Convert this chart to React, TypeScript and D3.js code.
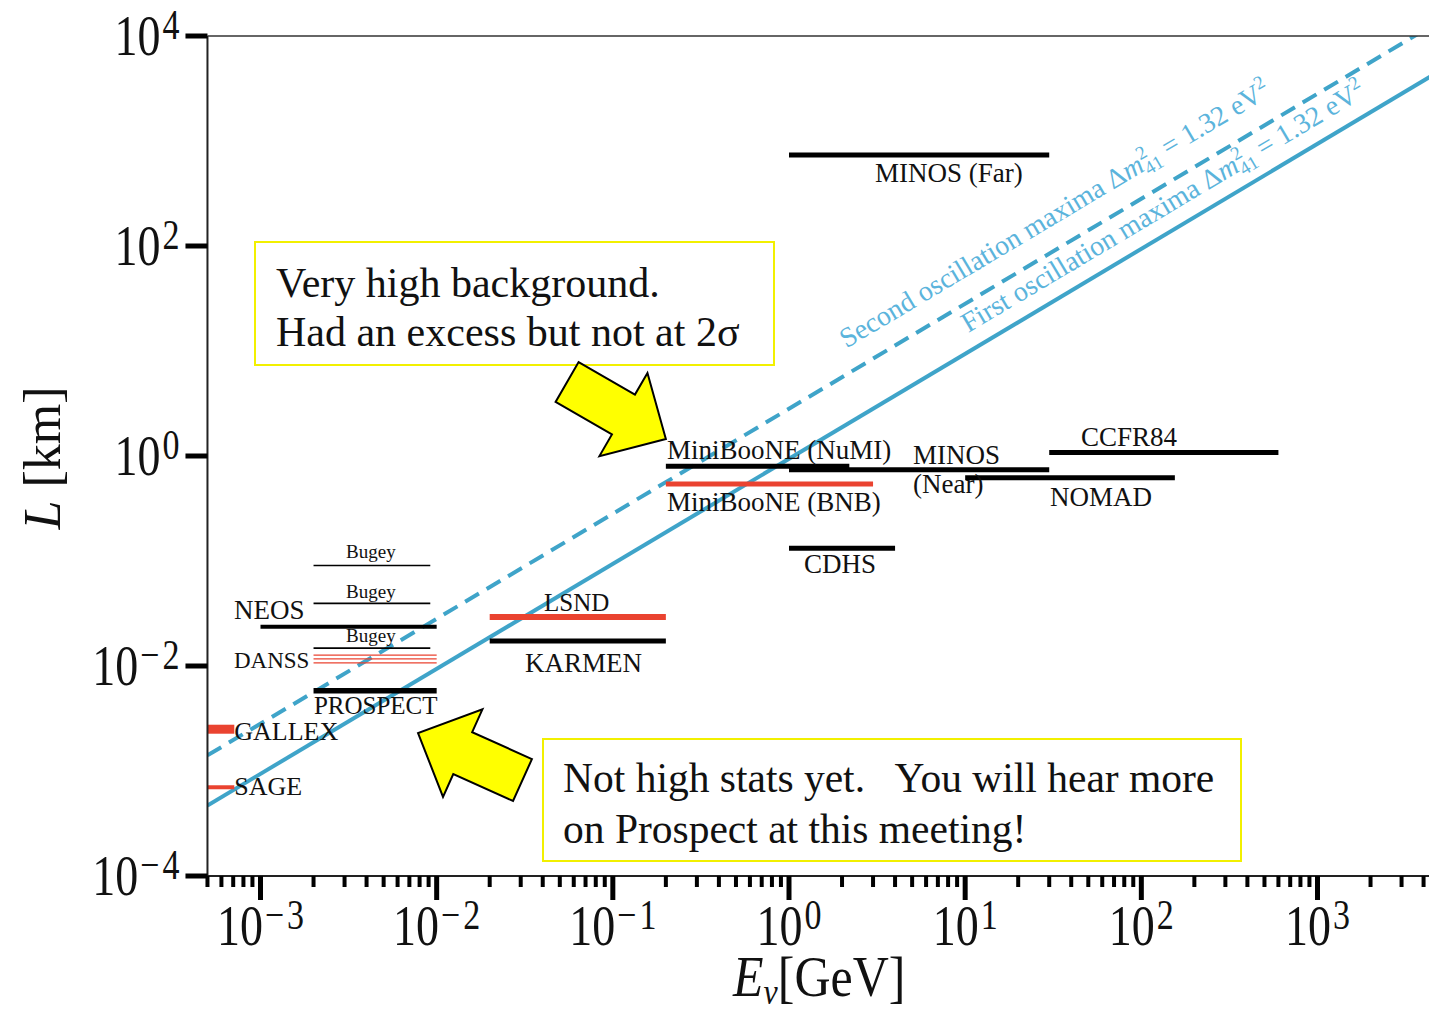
import React from 'react';
import * as d3 from 'd3';

const W = 1429;
const H = 1013;

// axis extents
const X_MIN = 5e-4;
const X_MAX = 5e3;
const Y_MIN = 1e-4;
const Y_MAX = 1e4;
const xTickExps = [-3, -2, -1, 0, 1, 2, 3];
const yTickExps = [-4, -2, 0, 2, 4];

// sterile oscillation
const DM2 = 1.32; // eV^2
const FIRST_MAX_FACTOR = Math.PI / (2 * 1.267 * DM2); // L[km] = f * E[GeV]
const SECOND_MAX_FACTOR = 3 * FIRST_MAX_FACTOR;

const RED = '#ea4330';
const BLACK = '#000';
const BLUE = '#3fa4c9';
const BLUE_TEXT = '#5bb4dc';
const FONT = '"Liberation Serif", "Times New Roman", serif';

// experiments: energy range [GeV], baseline [km]
const expNames = ['MINOS Far', 'MiniBooNE NuMI', 'MINOS Near', 'NOMAD', 'CCFR84', 'MiniBooNE BNB', 'CDHS', 'LSND', 'KARMEN', 'NEOS', 'Bugey 1', 'Bugey 2', 'Bugey 3', 'DANSS 1', 'DANSS 2', 'DANSS 3', 'PROSPECT', 'GALLEX', 'SAGE'];
const expEmin = [1, 0.2, 1, 10, 30, 0.2, 1, 0.02, 0.02, 0.001, 0.002, 0.002, 0.002, 0.002, 0.002, 0.002, 0.002, 5e-4, 5e-4];
const expEmax = [30, 2.2, 30, 155, 600, 3, 4, 0.2, 0.2, 0.01, 0.0092, 0.0092, 0.0092, 0.01, 0.01, 0.01, 0.01, 7.1e-4, 7.1e-4];
const expL = [735, 0.8, 0.74, 0.62, 1.08, 0.54, 0.132, 0.0293, 0.0173, 0.0236, 0.0905, 0.0395, 0.0148, 0.0127, 0.0117, 0.0107, 0.0058, 0.0025, 7.0e-4];
const expColor = [BLACK, BLACK, BLACK, BLACK, BLACK, RED, BLACK, RED, BLACK, BLACK, BLACK, BLACK, BLACK, RED, RED, RED, BLACK, RED, RED];
const expWidth = [5, 5, 5, 5, 5, 5, 5, 6, 5, 4, 1.6, 1.6, 1.6, 1.4, 1.4, 1.4, 5.5, 9, 4];

// labels: left edge energy, baseline L, font size
const labelText = ['MINOS (Far)', 'MiniBooNE (NuMI)', 'MINOS', '(Near)', 'CCFR84', 'NOMAD', 'MiniBooNE (BNB)', 'CDHS', 'LSND', 'KARMEN', 'NEOS', 'DANSS', 'Bugey', 'Bugey', 'Bugey', 'PROSPECT', 'GALLEX', 'SAGE'];
const labelE = [3.08, 0.203, 5.06, 5.06, 45.4, 30.3, 0.203, 1.217, 0.0407, 0.0317, 7.07e-4, 7.07e-4, 0.00306, 0.00306, 0.00306, 0.00201, 7.1e-4, 7.1e-4];
const labelL = [407, 0.936, 0.83, 0.444, 1.245, 0.334, 0.30, 0.0768, 0.0334, 0.00877, 0.028, 0.00957, 0.1068, 0.0444, 0.0168, 0.00349, 0.00197, 5.91e-4];
const labelSize = [27, 27, 27, 27, 27, 27, 27, 27, 25, 27, 27, 23, 19, 19, 19, 25, 26, 26];

// annotation arrows: tip and tail centre in data coordinates
const arrowTipE = [0.2, 0.00784];
const arrowTipL = [1.45, 0.0023];
const arrowTailE = [0.055, 0.0307];
const arrowTailL = [5.07, 8.2e-4];

const x = d3.scaleLog().domain([1e-3, 1e3]).range([260.5, 1317.5]);
const y = d3.scaleLog().domain([1e-4, 1e4]).range([876, 36]);

const left = x(X_MIN);
const right = x(X_MAX);
const top = y(Y_MAX);
const bottom = y(Y_MIN);

function arrowPath(tx: number, ty: number, bx: number, by: number) {
  const dx = tx - bx;
  const dy = ty - by;
  const len = Math.hypot(dx, dy);
  const ux = dx / len;
  const uy = dy / len;
  const nx = -uy;
  const ny = ux;
  const head = 49;
  const sw = 23;
  const hw = 48;
  const cx = tx - ux * head;
  const cy = ty - uy * head;
  const pts: [number, number][] = [
    [bx + nx * sw, by + ny * sw],
    [cx + nx * sw, cy + ny * sw],
    [cx + nx * hw, cy + ny * hw],
    [tx, ty],
    [cx - nx * hw, cy - ny * hw],
    [cx - nx * sw, cy - ny * sw],
    [bx - nx * sw, by - ny * sw],
  ];
  return 'M' + pts.map((p) => p.join(',')).join('L') + 'Z';
}

function Power({ exp }: { exp: number }) {
  return (
    <>
      {'10'}
      {exp < 0 ? (
        <>
          <tspan fontSize={34} dy={-13} dx={2}>{'\u2212'}</tspan>
          <tspan fontSize={34} dx={3}>{String(Math.abs(exp))}</tspan>
        </>
      ) : (
        <tspan fontSize={34} dy={-13} dx={2}>{String(exp)}</tspan>
      )}
    </>
  );
}

export default function App() {
  const minorTicks: number[] = [];
  for (let e = -4; e <= 3; e++) {
    for (let k = 2; k <= 9; k++) {
      const v = k * Math.pow(10, e);
      if (v >= X_MIN * 0.999 && v <= X_MAX * 1.001) minorTicks.push(v);
    }
  }
  const lineData = [X_MIN, X_MAX];
  const firstLine = d3.line<number>().x((e) => x(e)).y((e) => y(e * FIRST_MAX_FACTOR));
  const secondLine = d3.line<number>().x((e) => x(e)).y((e) => y(e * SECOND_MAX_FACTOR));
  const angle = (Math.atan2(y(10) - y(1), x(10) - x(1)) * 180) / Math.PI;

  // label anchor points along the lines
  const secStartE = 2.12;
  const firStartE = 10.4;
  const secX = x(secStartE);
  const secY = y(secStartE * SECOND_MAX_FACTOR) - 26;
  const firX = x(firStartE);
  const firY = y(firStartE * FIRST_MAX_FACTOR) - 19;

  return (
    <svg width={W} height={H} style={{ position: 'absolute', left: 0, top: 0, background: '#fff' }} fontFamily={FONT}>
      <defs>
        <clipPath id="plotClip">
          <rect x={left} y={top} width={right - left} height={bottom - top} />
        </clipPath>
      </defs>
      <rect x={0} y={0} width={W} height={H} fill="#fff" />

      {/* oscillation lines */}
      <g clipPath="url(#plotClip)">
        <path d={secondLine(lineData) || ''} fill="none" stroke={BLUE} strokeWidth={4} strokeDasharray="16,9" />
        <path d={firstLine(lineData) || ''} fill="none" stroke={BLUE} strokeWidth={4} />
      </g>

      {/* oscillation labels */}
      <text transform={`translate(${secX},${secY}) rotate(${angle})`} fill={BLUE_TEXT} fontSize={28}>
        {'Second oscillation maxima \u0394'}
        <tspan fontStyle="italic">m</tspan>
        <tspan fontSize={19} dy={-11}>2</tspan>
        <tspan fontSize={19} dx={-9.5} dy={17}>41</tspan>
        <tspan dy={-6}>{' = 1.32 eV'}</tspan>
        <tspan fontSize={19} dy={-11}>2</tspan>
      </text>
      <text transform={`translate(${firX},${firY}) rotate(${angle})`} fill={BLUE_TEXT} fontSize={28}>
        {'First oscillation maxima \u0394'}
        <tspan fontStyle="italic">m</tspan>
        <tspan fontSize={19} dy={-11}>2</tspan>
        <tspan fontSize={19} dx={-9.5} dy={17}>41</tspan>
        <tspan dy={-6}>{' = 1.32 eV'}</tspan>
        <tspan fontSize={19} dy={-11}>2</tspan>
      </text>

      {/* experiments */}
      {expNames.map((n, i) => (
        <line key={n} x1={x(expEmin[i])} x2={x(expEmax[i])} y1={y(expL[i])} y2={y(expL[i])} stroke={expColor[i]} strokeWidth={expWidth[i]} />
      ))}
      {labelText.map((t, i) => (
        <text key={i} x={x(labelE[i])} y={y(labelL[i])} fontSize={labelSize[i]} fill="#111">
          {t}
        </text>
      ))}

      {/* frame */}
      <line x1={left} x2={left} y1={top} y2={bottom + 1} stroke="#222" strokeWidth={2} />
      <line x1={left} x2={W + 20} y1={top} y2={top} stroke="#333" strokeWidth={1.5} />
      <line x1={left} x2={W + 20} y1={bottom} y2={bottom} stroke="#222" strokeWidth={2} />

      {/* y ticks */}
      {yTickExps.map((e) => {
        const yy = y(Math.pow(10, e));
        return (
          <g key={e}>
            <line x1={left - 22} x2={left} y1={yy} y2={yy} stroke="#000" strokeWidth={5} />
            <g transform={`translate(${left - 28},${yy + 19}) scale(1,1.22)`}>
              <text x={0} y={0} textAnchor="end" fontSize={46} fill="#111">
                <Power exp={e} />
              </text>
            </g>
          </g>
        );
      })}

      {/* x ticks */}
      {minorTicks.map((v, i) => (
        <line key={'m' + i} x1={x(v)} x2={x(v)} y1={bottom} y2={bottom + 11} stroke="#000" strokeWidth={4} />
      ))}
      {xTickExps.map((e) => {
        const xx = x(Math.pow(10, e));
        return (
          <g key={e}>
            <line x1={xx} x2={xx} y1={bottom} y2={bottom + 24} stroke="#000" strokeWidth={5} />
            <g transform={`translate(${xx},${945}) scale(1,1.22)`}>
              <text x={0} y={0} textAnchor="middle" fontSize={46} fill="#111">
                <Power exp={e} />
              </text>
            </g>
          </g>
        );
      })}

      {/* axis titles */}
      <g transform="translate(733,996) scale(1,1.12)">
        <text x={0} y={0} fontSize={50} fill="#111">
          <tspan fontStyle="italic">E</tspan>
          <tspan fontStyle="italic" fontSize={32} dy={7}>ν</tspan>
          <tspan dy={-7}>[GeV]</tspan>
        </text>
      </g>
      <text transform="translate(60,458) rotate(-90)" textAnchor="middle" fontSize={52} fill="#111">
        <tspan fontStyle="italic">L</tspan>
        {' [km]'}
      </text>

      {/* annotations */}
      <rect x={255} y={242} width={519} height={123} fill="#fff" stroke="#f2f000" strokeWidth={2} />
      <text x={276} y={297} fontSize={42} fill="#111">Very high background.</text>
      <text x={276} y={346} fontSize={42} fill="#111">Had an excess but not at 2σ</text>

      <rect x={543} y={739} width={698} height={122} fill="#fff" stroke="#f2f000" strokeWidth={2} />
      <text x={563} y={792} fontSize={41.5} fill="#111" style={{ whiteSpace: 'pre' }}>{'Not high stats yet.   You will hear more'}</text>
      <text x={563} y={843} fontSize={41.5} fill="#111">on Prospect at this meeting!</text>

      {arrowTipE.map((_, i) => (
        <path
          key={'a' + i}
          d={arrowPath(x(arrowTipE[i]), y(arrowTipL[i]), x(arrowTailE[i]), y(arrowTailL[i]))}
          fill="#ffff00"
          stroke="#000"
          strokeWidth={2}
          strokeLinejoin="miter"
        />
      ))}
    </svg>
  );
}
